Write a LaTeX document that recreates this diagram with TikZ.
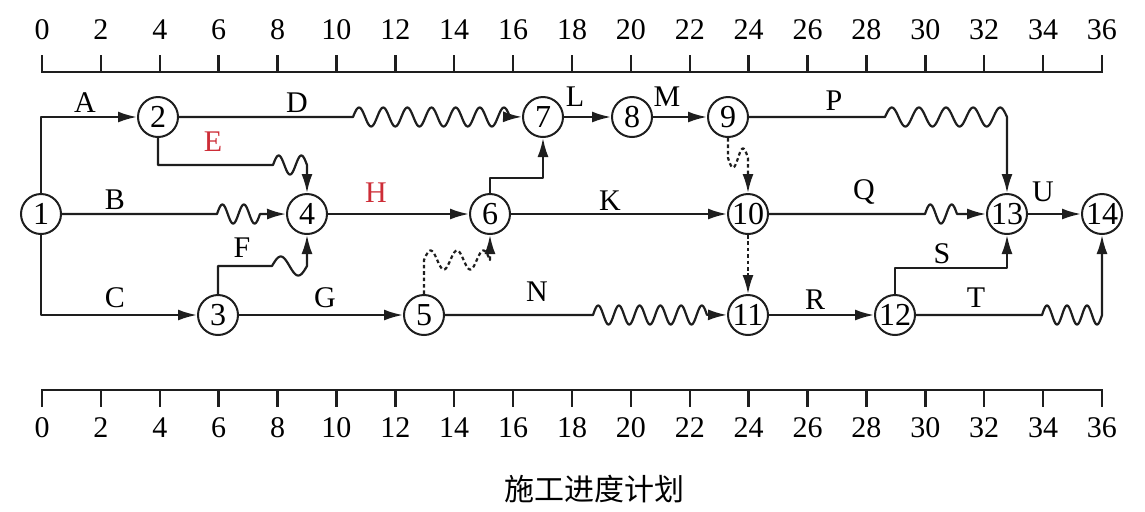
\documentclass[tikz,border=0pt]{standalone}
\usepackage{fontspec}
\setmainfont{Liberation Serif}
\newfontfamily\cjk{Noto Sans CJK SC}
\usetikzlibrary{arrows.meta}
\definecolor{lbred}{RGB}{205,45,55}
\definecolor{ink}{RGB}{30,30,30}
% wavy piece: x0, x1, y, half-periods, sign (+1 starts upward)
\newcommand\wv[5]{-- plot[domain=0:1,samples=160,variable=\t] ({#1+(#2-#1)*\t},{#3-(#5)*9.5*sin(180*#4*\t)})}
\begin{document}
\begin{tikzpicture}[x=0.5pt,y=-0.5pt,
  nd/.style={circle,draw=ink,line width=1pt,minimum size=20pt,inner sep=0pt,font=\fontsize{16}{16}\selectfont},
  lb/.style={inner sep=0pt,font=\fontsize{15}{15}\selectfont},
  rl/.style={inner sep=0pt,font=\fontsize{15}{15}\selectfont},
  ed/.style={draw=ink,line width=1.1pt,line join=round},
  arr/.style={ed,-{Latex[length=9.5pt,width=5.5pt]}},
  dum/.style={dash pattern=on 1.8pt off 1.4pt},
  ruler/.style={draw=ink,line width=1.2pt}]
\useasboundingbox (0,0) rectangle (1145,511);

% rulers
\draw[ruler] (42,55) -- (42,72) -- (1102,72) -- (1102,55);
\draw[ruler] (42,407) -- (42,390) -- (1102,390) -- (1102,407);
\foreach \i in {2,4,...,34}{
  \draw[ruler] ({42+29.444*\i},55) -- ({42+29.444*\i},72);
  \draw[ruler] ({42+29.444*\i},390) -- ({42+29.444*\i},407);
}
\foreach \i in {0,2,...,36}{
  \node[rl] (top\i) at ({42+29.444*\i},30) {\i};
  \node[rl] (bot\i) at ({42+29.444*\i},428) {\i};
}

% nodes
\node[nd] (n1) at (41,214) {1};
\node[nd] (n2) at (158,117) {2};
\node[nd] (n3) at (218,315) {3};
\node[nd] (n4) at (307,214) {4};
\node[nd] (n5) at (424,315) {5};
\node[nd] (n6) at (490,214) {6};
\node[nd] (n7) at (543,117) {7};
\node[nd] (n8) at (632,117) {8};
\node[nd] (n9) at (728,117) {9};
\node[nd] (n10) at (748,214) {10};
\node[nd] (n11) at (748,315) {11};
\node[nd] (n12) at (895,315) {12};
\node[nd] (n13) at (1007,214) {13};
\node[nd] (n14) at (1102,214) {14};

% edges
\draw[arr] (n1) |- (n2);
\draw[arr] (n1) |- (n3);
\draw[arr] (n1) -- (217,214) \wv{217}{260}{214}{4}{1} -- (n4);
\draw[arr] (n2) -- (353,117) \wv{353}{510}{117}{13}{1} -- (n7);
\draw[arr] (n2) |- (273,165) \wv{273}{307}{165}{3}{1} -- (n4);
\draw[arr] (n3) |- (272,266) \wv{272}{307}{266}{2}{1} -- (n4);
\draw[arr] (n3) -- (n5);
\draw[arr] (n4) -- (n6);
\draw[arr,dum] (n5) -- (424,260) \wv{424}{490}{260}{5}{1} -- (n6);
\draw[arr] (n6) |- (543,178) -- (n7);
\draw[arr] (n6) -- (n10);
\draw[arr] (n5) -- (593,315) \wv{593}{707}{315}{11}{1} -- (n11);
\draw[arr] (n7) -- (n8);
\draw[arr] (n8) -- (n9);
\draw[arr,dum] (n9) -- (728,158) \wv{728}{748}{158}{2}{-1} -- (n10);
\draw[arr,dum] (n10) -- (n11);
\draw[arr] (n9) -- (885,117) \wv{885}{1007}{117}{9}{1} -- (n13);
\draw[arr] (n10) -- (925,214) \wv{925}{957}{214}{3}{1} -- (n13);
\draw[arr] (n11) -- (n12);
\draw[arr] (n12) |- (1007,268) -- (n13);
\draw[arr] (n12) -- (1042,315) \wv{1042}{1102}{315}{6}{1} -- (n14);
\draw[arr] (n13) -- (n14);

% labels
\node[lb] (lA) at (85,103) {A};
\node[lb] (lD) at (297,103) {D};
\node[lb,text=lbred] (lE) at (213,142) {E};
\node[lb] (lB) at (115,200) {B};
\node[lb,text=lbred] (lH) at (376,193) {H};
\node[lb] (lF) at (242,248) {F};
\node[lb] (lC) at (115,298) {C};
\node[lb] (lG) at (325,298) {G};
\node[lb] (lK) at (610,201) {K};
\node[lb] (lN) at (537,292) {N};
\node[lb] (lL) at (575,97) {L};
\node[lb] (lM) at (667,97) {M};
\node[lb] (lP) at (834,101) {P};
\node[lb] (lQ) at (864,192) {Q};
\node[lb] (lU) at (1043,192) {U};
\node[lb] (lS) at (942,254) {S};
\node[lb] (lR) at (815,300) {R};
\node[lb] (lT) at (976,298) {T};

% title
\node[inner sep=0pt,font=\cjk\fontsize{15}{15}\selectfont] (title) at (594,489) {施工进度计划};
\end{tikzpicture}
\end{document}
